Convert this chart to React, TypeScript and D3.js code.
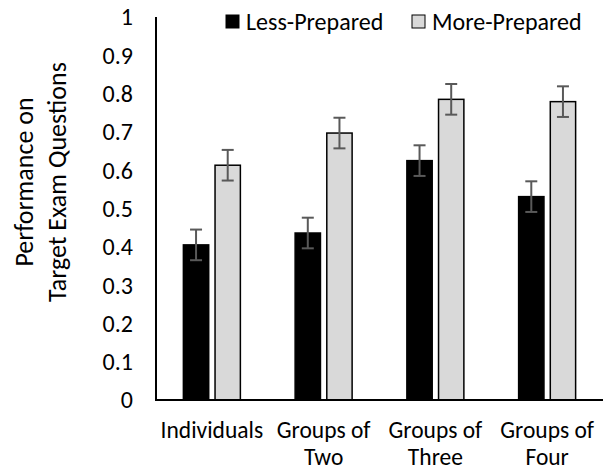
import * as d3 from 'd3'

const categories = ['Individuals', 'Groups of Two', 'Groups of Three', 'Groups of Four']
const categoryLines = [['Individuals'], ['Groups of', 'Two'], ['Groups of', 'Three'], ['Groups of', 'Four']]
const seriesNames = ['Less-Prepared', 'More-Prepared']
const lessPrepared = [0.405, 0.436, 0.625, 0.531]
const morePrepared = [0.613, 0.697, 0.785, 0.779]
const lessErr = [0.04, 0.04, 0.04, 0.04]
const moreErr = [0.04, 0.04, 0.04, 0.04]
const yTicks = [0, 0.1, 0.2, 0.3, 0.4, 0.5, 0.6, 0.7, 0.8, 0.9, 1]
const colors = ['#000000', '#d9d9d9']

const width = 607
const height = 472
const font = "Carlito, Calibri, 'Open Sans', sans-serif"

export default function App() {
    const margin = {top: 17, right: 4, bottom: 72, left: 156}
    const yScale = d3.scaleLinear().domain([0, 1]).range([height - margin.bottom, margin.top])
    const x0 = d3.scaleBand()
        .domain(categories)
        .range([margin.left, width - margin.right])
        .paddingInner(0.49)
        .paddingOuter(0.245)
    const x1 = d3.scaleBand()
        .domain(seriesNames)
        .range([0, x0.bandwidth()])
        .paddingInner(0.2)

    const values = [lessPrepared, morePrepared]
    const errs = [lessErr, moreErr]
    const y0 = yScale(0)

    return (
        <svg width={width} height={height} style={{position: 'absolute', left: 0, top: 0, background: '#fff'}}
             fontFamily={font}>
            {/* bars */}
            {categories.map((c, i) => (
                <g key={c} transform={`translate(${x0(c)},0)`}>
                    {seriesNames.map((s, k) => {
                        const v = values[k][i]
                        return (
                            <rect key={s} x={x1(s)} y={yScale(v)} width={x1.bandwidth()} height={y0 - yScale(v)}
                                  fill={colors[k]} stroke="#000" strokeWidth={1.5}/>
                        )
                    })}
                    {seriesNames.map((s, k) => {
                        const v = values[k][i]
                        const e = errs[k][i]
                        const cx = (x1(s) as number) + x1.bandwidth() / 2
                        return (
                            <g key={s + 'err'} stroke="#595959" strokeWidth={2}>
                                <line x1={cx} x2={cx} y1={yScale(v + e)} y2={yScale(v - e)}/>
                                <line x1={cx - 6} x2={cx + 6} y1={yScale(v + e)} y2={yScale(v + e)}/>
                                <line x1={cx - 6} x2={cx + 6} y1={yScale(v - e)} y2={yScale(v - e)}/>
                            </g>
                        )
                    })}
                </g>
            ))}

            {/* axes */}
            <line x1={margin.left} x2={margin.left} y1={yScale(1)} y2={y0 + 1} stroke="#000" strokeWidth={2}/>
            <line x1={margin.left} x2={width - margin.right} y1={y0} y2={y0} stroke="#000" strokeWidth={2}/>

            {yTicks.map(t => (
                <text key={t} x={133} y={yScale(t)} dy="0.35em" textAnchor="end" fontSize={24} fill="#000">
                    {d3.format('')(t)}
                </text>
            ))}

            {categories.map((c, i) => (
                <text key={c} textAnchor="middle" fontSize={23.5} fill="#000">
                    {categoryLines[i].map((ln, j) => (
                        <tspan key={j} x={(x0(c) as number) + x0.bandwidth() / 2} y={438 + j * 27}>{ln}</tspan>
                    ))}
                </text>
            ))}

            {/* y title */}
            <text transform="translate(33,182) rotate(-90)" textAnchor="middle" fontSize={26} fill="#000">
                Performance on</text>
            <text transform="translate(66,182) rotate(-90)" textAnchor="middle" fontSize={26} fill="#000">
                Target Exam Questions</text>

            {/* legend */}
            {seriesNames.map((s, k) => {
                const lx = [226, 412][k]
                return (
                    <g key={s}>
                        <rect x={lx} y={15} width={13} height={13} fill={colors[k]} stroke="#000" strokeWidth={1}/>
                        <text x={lx + 20} y={22} dy="0.35em" fontSize={24} fill="#000">{s}</text>
                    </g>
                )
            })}
        </svg>
    )
}
